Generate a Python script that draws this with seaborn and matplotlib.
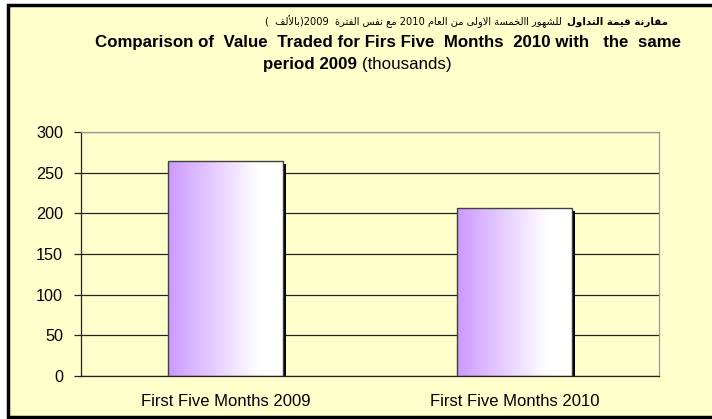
import re
import numpy as np
import pandas as pd
import matplotlib
matplotlib.use("Agg")
import matplotlib.pyplot as plt
import matplotlib.transforms as mtransforms
from matplotlib.colors import LinearSegmentedColormap
from matplotlib.patches import Rectangle
import seaborn as sns

# date
categories = ["First Five Months 2009", "First Five Months 2010"]
values = [264, 206]
y_ticks = [0, 50, 100, 150, 200, 250, 300]

title_ar_bold = "مقارنة قيمة التداول"
title_ar_rest = "للشهور االخمسة الاولى من العام 2010 مع نفس الفترة  2009(بالألف  )"
title_en_line1 = "Comparison of  Value  Traded for Firs Five  Months  2010 with   the  same"
title_en_bold = "period 2009 "
title_en_rest = "(thousands)"

# formele arabe (izolat, final, initial, medial) - matplotlib nu leaga literele singur
FORMS = {
    "ا": (0xFE8D, 0xFE8E, None, None), "أ": (0xFE83, 0xFE84, None, None),
    "ب": (0xFE8F, 0xFE90, 0xFE91, 0xFE92), "ة": (0xFE93, 0xFE94, None, None),
    "ت": (0xFE95, 0xFE96, 0xFE97, 0xFE98), "خ": (0xFEA5, 0xFEA6, 0xFEA7, 0xFEA8),
    "د": (0xFEA9, 0xFEAA, None, None), "ر": (0xFEAD, 0xFEAE, None, None),
    "س": (0xFEB1, 0xFEB2, 0xFEB3, 0xFEB4), "ش": (0xFEB5, 0xFEB6, 0xFEB7, 0xFEB8),
    "ع": (0xFEC9, 0xFECA, 0xFECB, 0xFECC), "ف": (0xFED1, 0xFED2, 0xFED3, 0xFED4),
    "ق": (0xFED5, 0xFED6, 0xFED7, 0xFED8), "ل": (0xFEDD, 0xFEDE, 0xFEDF, 0xFEE0),
    "م": (0xFEE1, 0xFEE2, 0xFEE3, 0xFEE4), "ن": (0xFEE5, 0xFEE6, 0xFEE7, 0xFEE8),
    "ه": (0xFEE9, 0xFEEA, 0xFEEB, 0xFEEC), "و": (0xFEED, 0xFEEE, None, None),
    "ى": (0xFEEF, 0xFEF0, None, None), "ي": (0xFEF1, 0xFEF2, 0xFEF3, 0xFEF4),
    "لا": (0xFEFB, 0xFEFC, None, None), "لأ": (0xFEF7, 0xFEF8, None, None),
}


def arabic(s):
    items, i = [], 0
    while i < len(s):
        if s[i] == "ل" and i + 1 < len(s) and s[i + 1] in "اأ":
            items.append(s[i:i + 2])
            i += 2
        else:
            items.append(s[i])
            i += 1
    out = []
    for k, it in enumerate(items):
        f = FORMS.get(it)
        if f is None:
            out.append(it)
            continue
        prev = FORMS.get(items[k - 1]) if k > 0 else None
        nxt = FORMS.get(items[k + 1]) if k + 1 < len(items) else None
        jp = prev is not None and prev[2] is not None
        jn = f[2] is not None and nxt is not None
        idx = 3 if jp and jn else 1 if jp else 2 if jn else 0
        out.append(chr(f[idx]))
    tokens = re.findall(r"\d+|\D", "".join(out))[::-1]
    mirror = {"(": ")", ")": "("}
    return "".join(mirror.get(t, t) for t in tokens)


df = pd.DataFrame({"Perioada": categories, "Valoare": values})

sns.set_style("white")
plt.rcParams["font.family"] = ["Liberation Sans", "DejaVu Sans"]
plt.rcParams["text.color"] = "black"
plt.rcParams["xtick.labelcolor"] = "black"
plt.rcParams["ytick.labelcolor"] = "black"

fig = plt.figure(figsize=(7.12, 4.19), dpi=100)
fig.patch.set_facecolor("white")
fig.patches.append(Rectangle((8 / 712, 2 / 419), 1.0, 412 / 419, transform=fig.transFigure,
                             facecolor="#FFFFCC", edgecolor="black", linewidth=2.5, zorder=-1))

ax = fig.add_axes([81 / 712, 1 - 376 / 419, 578 / 712, 244 / 419])
ax.set_facecolor("#FFFFCC")

sns.barplot(data=df, x="Perioada", y="Valoare", width=0.4, color="#CC99FF", ax=ax)

cmap = LinearSegmentedColormap.from_list("grad", [(0, "#CC99FF"), (0.78, "#FFFFFF"), (1, "#FFFFFF")])
grad = np.linspace(0, 1, 256).reshape(1, -1)
shadow_tr = mtransforms.offset_copy(ax.transData, fig=fig, x=3, y=-3, units="dots")
for bar in list(ax.patches):
    x0, y0, w, h = bar.get_x(), bar.get_y(), bar.get_width(), bar.get_height()
    ax.add_patch(Rectangle((x0, y0), w, h, transform=shadow_tr, facecolor="black",
                           edgecolor="none", zorder=2))
    im = ax.imshow(grad, cmap=cmap, extent=[x0, x0 + w, y0, y0 + h], aspect="auto",
                   interpolation="bicubic", zorder=2.5)
    im.set_clip_path(bar)
    bar.set_facecolor("none")
    bar.set_edgecolor("#404040")
    bar.set_linewidth(1)
    bar.set_zorder(3)

ax.set_xlim(-0.5, 1.5)
ax.set_ylim(0, 300)
ax.set_yticks(y_ticks)
ax.yaxis.grid(True, color="#222222", linewidth=0.9)
ax.set_axisbelow(True)
ax.set_xlabel("")
ax.set_ylabel("")

ax.set_xticks([-0.5, 0.5, 1.5], minor=True)
ax.tick_params(axis="x", which="major", length=0, labelsize=12, pad=13)
ax.tick_params(axis="x", which="minor", length=5, width=0.9, color="#222222")
ax.tick_params(axis="y", length=5, width=0.9, color="#222222", labelsize=11.7, pad=8, left=True)

for side in ["left", "bottom"]:
    ax.spines[side].set_color("#222222")
    ax.spines[side].set_linewidth(0.9)
for side in ["top", "right"]:
    ax.spines[side].set_color("#999999")
    ax.spines[side].set_linewidth(0.9)

# titlul pe trei randuri
H = 419
t_ar = fig.text(668 / 712, 1 - 22 / H, arabic(title_ar_bold), ha="right", va="center",
                fontsize=7.4, fontweight="bold", family=["DejaVu Sans"])
fig.text(388 / 712, 1 - 43 / H, title_en_line1, ha="center", va="center",
         fontsize=12.2, fontweight="bold")
t_en = fig.text(263 / 712, 1 - 64 / H, title_en_bold, ha="left", va="center",
                fontsize=12.2, fontweight="bold")

fig.canvas.draw()
r = fig.canvas.get_renderer()
bb = t_ar.get_window_extent(r)
fig.text((bb.x0 - 5) / 712, 1 - 22 / H, arabic(title_ar_rest), ha="right", va="center",
         fontsize=7.1, family=["DejaVu Sans"])
bb = t_en.get_window_extent(r)
fig.text(bb.x1 / 712, 1 - 64 / H, title_en_rest, ha="left", va="center", fontsize=12.2)

fig.savefig("out.png", dpi=100)
